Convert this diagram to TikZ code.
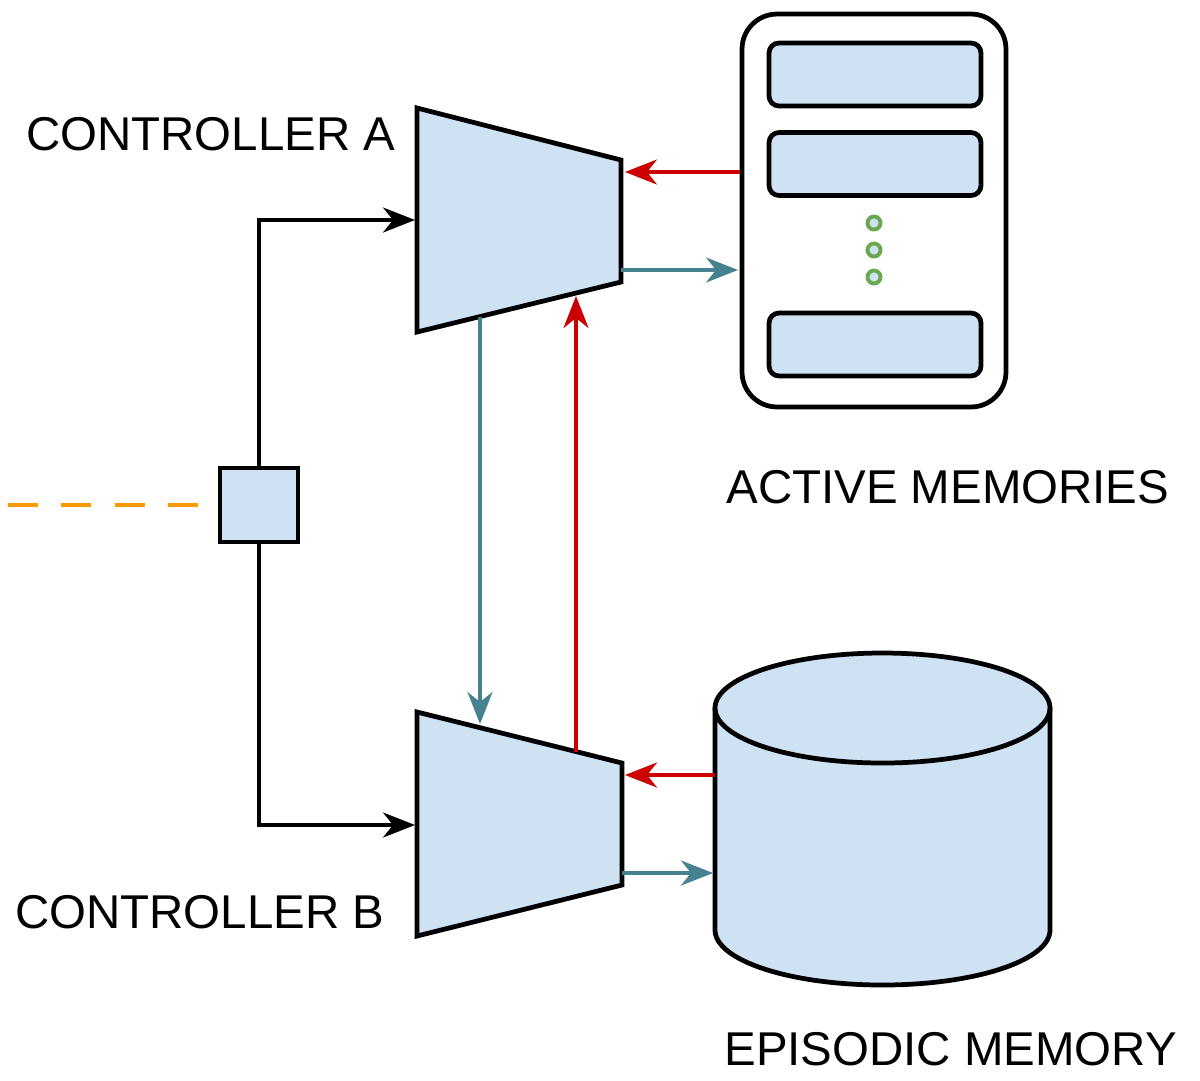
\documentclass[tikz,border=0pt]{standalone}
\usepackage{fontspec}
\setmainfont{Liberation Sans}
\usetikzlibrary{arrows.meta,positioning}

\definecolor{cellblue}{HTML}{CFE2F3}
\definecolor{readred}{HTML}{CC0000}
\definecolor{writeteal}{HTML}{45818E}
\definecolor{inorange}{HTML}{FF9900}
\definecolor{dotgreen}{HTML}{6AA84F}

\begin{document}
\begin{tikzpicture}[x=0.02cm,y=-0.02cm,
    unit/.style={draw, line width=2.7pt, fill=cellblue},
    flow/.style={line width=2.1pt, -{Stealth[length=0.64cm,width=0.5cm,inset=0.2cm]}},
    lbl/.style={anchor=base west, inner sep=0pt, font=\fontsize{27}{31}\selectfont}]
    \useasboundingbox (0,0) rectangle (1200,1080);

    % controller A
    \path (417,108) coordinate (aTL); \path (621,160) coordinate (aTR);
    \path (621,282) coordinate (aBR); \path (417,332) coordinate (aBL);
    \draw[unit, line join=miter] (aTL) -- (aTR) -- (aBR) -- (aBL) -- cycle;
    \node[lbl] (labA) at (26,150) {CONTROLLER A};

    % controller B
    \path (417,712) coordinate (bTL); \path (622,763) coordinate (bTR);
    \path (622,885) coordinate (bBR); \path (417,936) coordinate (bBL);
    \draw[unit, line join=miter] (bTL) -- (bTR) -- (bBR) -- (bBL) -- cycle;
    \node[lbl] (labB) at (15,928) {CONTROLLER B};

    % input split
    \node[unit, minimum width=1.56cm, minimum height=1.48cm, inner sep=0pt] (split) at (259,505) {};
    \path (8,505) coordinate (src);
    \draw[inorange, line width=2.7pt, dash pattern=on 0.6cm off 0.467cm] (src) -- (split.west);
    \path (415,220) coordinate (aIn); \path (415,825) coordinate (bIn);
    \draw[flow] (split.north) |- (aIn);
    \draw[flow] (split.south) |- (bIn);

    % active memories
    \node[draw, line width=2.7pt, rounded corners=0.7cm, minimum width=5.28cm,
          minimum height=7.86cm] (active) at (874,210.5) {};
    \foreach \n/\y in {1/74.5, 2/164, 3/344.5}
    { \node[unit, rounded corners=0.2cm, minimum width=4.24cm, minimum height=1.26cm] (slot\n) at (875,\y) {}; }
    \foreach \y in {223,250,277}
    { \draw[dotgreen, line width=2.2pt, fill=cellblue] (874,\y) circle (6.5); }
    \node[lbl] (labActive) at (726,503) {ACTIVE MEMORIES};

    % episodic memory
    \draw[unit] (715,708) -- (715,930) arc[start angle=180, end angle=0, x radius=167.5, y radius=55]
        -- (1050,708) arc[start angle=0, end angle=-180, x radius=167.5, y radius=55] -- cycle;
    \draw[line width=2.7pt] (715,708) arc[start angle=180, end angle=0, x radius=167.5, y radius=55];
    \path (715,775) coordinate (epiOut); \path (713,873) coordinate (epiIn);
    \node[lbl] (labEpi) at (724,1065) {EPISODIC MEMORY};

    % reads and writes
    \path (740,172) coordinate (actOut); \path (625,172) coordinate (aRead);
    \path (621,270) coordinate (aWrite); \path (738,270) coordinate (actIn);
    \draw[flow, readred] (actOut) -- (aRead);
    \draw[flow, writeteal] (aWrite) -- (actIn);
    \path (625,775) coordinate (bRead); \path (622,873) coordinate (bWrite);
    \draw[flow, readred] (epiOut) -- (bRead);
    \draw[flow, writeteal] (bWrite) -- (epiIn);

    % between controllers
    \path (480,317) coordinate (aDown); \path (480,724) coordinate (bTop);
    \path (576,752) coordinate (bUp); \path (576,296) coordinate (aBot);
    \draw[flow, writeteal] (aDown) -- (bTop);
    \draw[flow, readred] (bUp) -- (aBot);
\end{tikzpicture}
\end{document}
